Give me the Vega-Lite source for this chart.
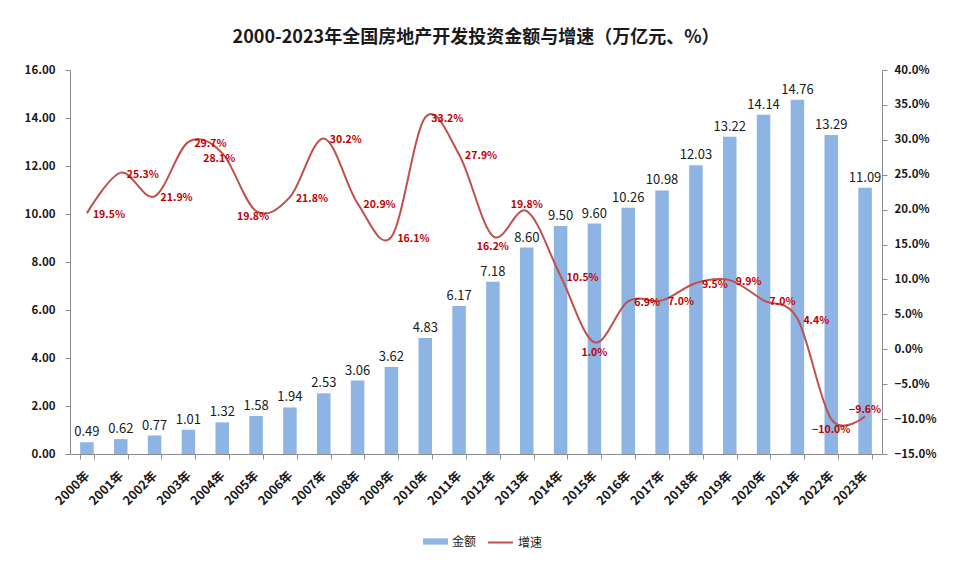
{
  "$schema": "https://vega.github.io/schema/vega-lite/v6.json",
  "width": 812,
  "height": 384,
  "autosize": "none",
  "padding": {"top": 70, "left": 70, "right": 78, "bottom": 114},
  "background": "white",
  "title": {
    "text": "2000-2023年全国房地产开发投资金额与增速（万亿元、%）",
    "font": "Noto Sans CJK SC",
    "fontSize": 18,
    "fontWeight": "bold",
    "color": "#1a1a1a",
    "anchor": "middle",
    "offset": 17
  },
  "config": {
    "view": {"stroke": null},
    "font": "Noto Sans CJK SC",
    "axis": {
      "grid": false,
      "domainColor": "#8c8c8c",
      "tickColor": "#8c8c8c",
      "tickSize": 5,
      "labelFont": "Noto Sans CJK SC",
      "labelFontSize": 11.5,
      "labelFontWeight": "bold",
      "labelColor": "#1a1a1a",
      "title": null
    },
    "legend": {
      "labelFont": "Noto Sans CJK SC",
      "labelFontSize": 12,
      "labelColor": "#1a1a1a",
      "padding": 0
    }
  },
  "data": {
    "values": [
      {"year": "2000年", "amount": 0.49, "rate": 0.195},
      {"year": "2001年", "amount": 0.62, "rate": 0.253},
      {"year": "2002年", "amount": 0.77, "rate": 0.219},
      {"year": "2003年", "amount": 1.01, "rate": 0.297},
      {"year": "2004年", "amount": 1.32, "rate": 0.281},
      {"year": "2005年", "amount": 1.58, "rate": 0.198},
      {"year": "2006年", "amount": 1.94, "rate": 0.218},
      {"year": "2007年", "amount": 2.53, "rate": 0.302},
      {"year": "2008年", "amount": 3.06, "rate": 0.209},
      {"year": "2009年", "amount": 3.62, "rate": 0.161},
      {"year": "2010年", "amount": 4.83, "rate": 0.332},
      {"year": "2011年", "amount": 6.17, "rate": 0.279},
      {"year": "2012年", "amount": 7.18, "rate": 0.162},
      {"year": "2013年", "amount": 8.60, "rate": 0.198},
      {"year": "2014年", "amount": 9.50, "rate": 0.105},
      {"year": "2015年", "amount": 9.60, "rate": 0.010},
      {"year": "2016年", "amount": 10.26, "rate": 0.069},
      {"year": "2017年", "amount": 10.98, "rate": 0.070},
      {"year": "2018年", "amount": 12.03, "rate": 0.095},
      {"year": "2019年", "amount": 13.22, "rate": 0.099},
      {"year": "2020年", "amount": 14.14, "rate": 0.070},
      {"year": "2021年", "amount": 14.76, "rate": 0.044},
      {"year": "2022年", "amount": 13.29, "rate": -0.100},
      {"year": "2023年", "amount": 11.09, "rate": -0.096}
    ]
  },
  "encoding": {
    "x": {
      "field": "year",
      "type": "ordinal",
      "scale": {"paddingInner": 0.6, "paddingOuter": 0.3},
      "axis": {"labelAngle": -45, "labelAlign": "right", "labelBaseline": "middle", "tickBand": "extent", "labelPadding": 14, "labelFontSize": 12.5}
    }
  },
  "layer": [
    {
      "encoding": {
        "y": {
          "field": "amount",
          "type": "quantitative",
          "scale": {"domain": [0, 16], "nice": false},
          "axis": {"values": [0, 2, 4, 6, 8, 10, 12, 14, 16], "format": ".2f", "orient": "left", "labelPadding": 10}
        }
      },
      "layer": [
        {
          "mark": {"type": "bar"},
          "encoding": {
            "color": {
              "datum": "金额",
              "type": "nominal",
              "scale": {"domain": ["金额"], "range": ["#8DB4E2"]},
              "legend": {"title": null, "orient": "none", "legendX": 353, "legendY": 459, "symbolType": "M-1,-0.25H1V0.25H-1Z", "symbolSize": 625, "symbolStrokeWidth": 0}
            }
          }
        },
        {
          "mark": {"type": "text", "dy": -10, "fontSize": 13, "color": "#1a1a1a", "font": "Noto Sans CJK SC"},
          "encoding": {"text": {"field": "amount", "type": "quantitative", "format": ".2f"}}
        }
      ]
    },
    {
      "encoding": {
        "y": {
          "field": "rate",
          "type": "quantitative",
          "scale": {"domain": [-0.15, 0.40], "nice": false, "zero": false},
          "axis": {"values": [-0.15, -0.10, -0.05, 0, 0.05, 0.10, 0.15, 0.20, 0.25, 0.30, 0.35, 0.40], "format": ".1%", "orient": "right", "labelPadding": 7}
        },
        "text": {"field": "rate", "type": "quantitative", "format": ".1%"}
      },
      "layer": [
        {
          "mark": {"type": "line", "interpolate": "cardinal", "strokeWidth": 2},
          "encoding": {
            "text": null,
            "stroke": {
              "datum": "增速",
              "type": "nominal",
              "scale": {"domain": ["增速"], "range": ["#C0504D"]},
              "legend": {"title": null, "orient": "none", "legendX": 417, "legendY": 459, "symbolType": "stroke", "symbolSize": 625, "symbolStrokeWidth": 2}
            }
          }
        },
        {
          "transform": [{"filter": {"not": {"field": "year", "oneOf": ["2004年", "2005年", "2012年", "2013年", "2015年", "2022年", "2023年"]}}}],
          "mark": {"type": "text", "align": "left", "dx": 6, "dy": 2, "fontSize": 10.5, "fontWeight": "bold", "color": "#C00000", "font": "Noto Sans CJK SC"}
        },
        {
          "transform": [{"filter": {"field": "year", "oneOf": ["2012年", "2015年", "2022年"]}}],
          "mark": {"type": "text", "align": "center", "dy": 11, "fontSize": 10.5, "fontWeight": "bold", "color": "#C00000", "font": "Noto Sans CJK SC"}
        },
        {
          "transform": [{"filter": {"field": "year", "oneOf": ["2004年", "2005年"]}}],
          "mark": {"type": "text", "align": "center", "dx": -3, "dy": 6, "fontSize": 10.5, "fontWeight": "bold", "color": "#C00000", "font": "Noto Sans CJK SC"}
        },
        {
          "transform": [{"filter": {"field": "year", "oneOf": ["2013年", "2023年"]}}],
          "mark": {"type": "text", "align": "center", "dy": -6, "fontSize": 10.5, "fontWeight": "bold", "color": "#C00000", "font": "Noto Sans CJK SC"}
        }
      ]
    }
  ],
  "resolve": {"scale": {"y": "independent", "color": "independent"}, "axis": {"y": "independent"}}
}
